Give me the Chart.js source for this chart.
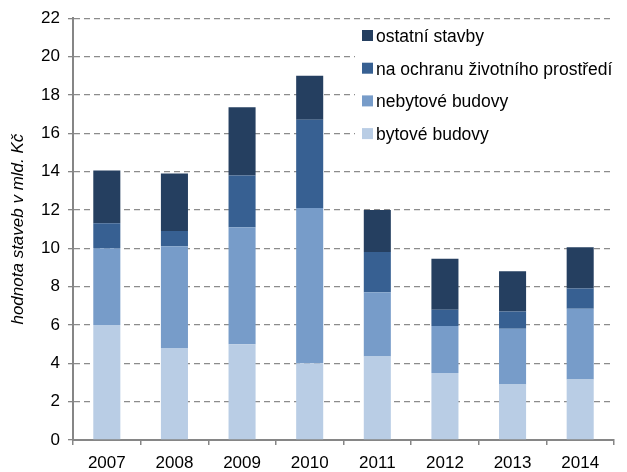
<!DOCTYPE html>
<html>
<head>
<meta charset="utf-8">
<title>Hodnota staveb</title>
<script src="https://cdn.jsdelivr.net/npm/chart.js@4/dist/chart.umd.min.js"></script>
<style>
  html, body { margin: 0; padding: 0; background: #fff; }
  #wrap { width: 627px; height: 472px; position: relative; }
</style>
</head>
<body>
<div id="wrap"><canvas id="chart"></canvas></div>
<script>
// data (mld. Kč)
const years = ["2007", "2008", "2009", "2010", "2011", "2012", "2013", "2014"];
const bytove = [6.0, 4.8, 5.0, 4.0, 4.35, 3.5, 2.9, 3.15];
const nebytove = [4.0, 5.3, 6.1, 8.1, 3.35, 2.45, 2.9, 3.7];
const ochrana = [1.3, 0.8, 2.7, 4.6, 2.1, 0.85, 0.9, 1.05];
const ostatni = [2.75, 3.0, 3.55, 2.3, 2.2, 2.65, 2.1, 2.15];
const yTicks = [0, 2, 4, 6, 8, 10, 12, 14, 16, 18, 20, 22];

const FONT = "'Liberation Sans', Arial, sans-serif";

// legend drawn inside the plot, top right, in reverse order
const innerLegend = {
  id: 'innerLegend',
  afterDraw(chart) {
    const ctx = chart.ctx;
    ctx.save();
    ctx.fillStyle = '#fff';
    ctx.fillRect(355, 20, 272, 130);
    const sets = chart.data.datasets.slice().reverse();
    sets.forEach((ds, i) => {
      const y = 35 + i * 32.7;
      ctx.fillStyle = ds.backgroundColor;
      ctx.fillRect(362, y - 5, 11, 11);
      ctx.fillStyle = '#000';
      ctx.font = "17.5px " + FONT;
      ctx.textBaseline = 'middle';
      ctx.fillText(ds.label, 376, y + 2);
    });
    ctx.restore();
  }
};

new Chart(document.getElementById('chart'), {
  type: 'bar',
  data: {
    labels: years,
    datasets: [
      { label: 'bytové budovy', data: bytove, backgroundColor: '#b9cde5' },
      { label: 'nebytové budovy', data: nebytove, backgroundColor: '#779cc9' },
      { label: 'na ochranu životního prostředí', data: ochrana, backgroundColor: '#376092' },
      { label: 'ostatní stavby', data: ostatni, backgroundColor: '#253f60' }
    ]
  },
  options: {
    responsive: true,
    maintainAspectRatio: false,
    animation: false,
    datasets: { bar: { categoryPercentage: 1, barPercentage: 0.4, borderWidth: 0 } },
    layout: { padding: { top: 12, right: 13, left: 0, bottom: 0 } },
    plugins: { legend: { display: false }, tooltip: { enabled: false } },
    scales: {
      x: {
        stacked: true,
        border: { color: '#868686', width: 2 },
        grid: { offset: true, drawOnChartArea: false, color: '#868686', tickLength: 5, lineWidth: 1.5 },
        ticks: { color: '#000', font: { family: FONT, size: 17 }, padding: 8 },
        afterFit(scale) { scale.height = 32; }
      },
      y: {
        stacked: true,
        min: 0,
        max: 22,
        afterBuildTicks(scale) { scale.ticks = yTicks.map(v => ({ value: v })); },
        border: { color: '#868686', width: 2, dash: [6, 4] },
        grid: { color: '#8c8c8c', lineWidth: 1.3, tickLength: 5, tickColor: '#868686', tickBorderDash: [] },
        ticks: { color: '#000', font: { family: FONT, size: 17 }, padding: 8 },
        title: {
          display: true,
          text: 'hodnota staveb v mld. Kč',
          color: '#000',
          font: { family: FONT, size: 17, style: 'italic' },
          padding: { top: 8, bottom: 2 }
        },
        afterFit(scale) { scale.width = 73; }
      }
    }
  },
  plugins: [innerLegend]
});
</script>
</body>
</html>
